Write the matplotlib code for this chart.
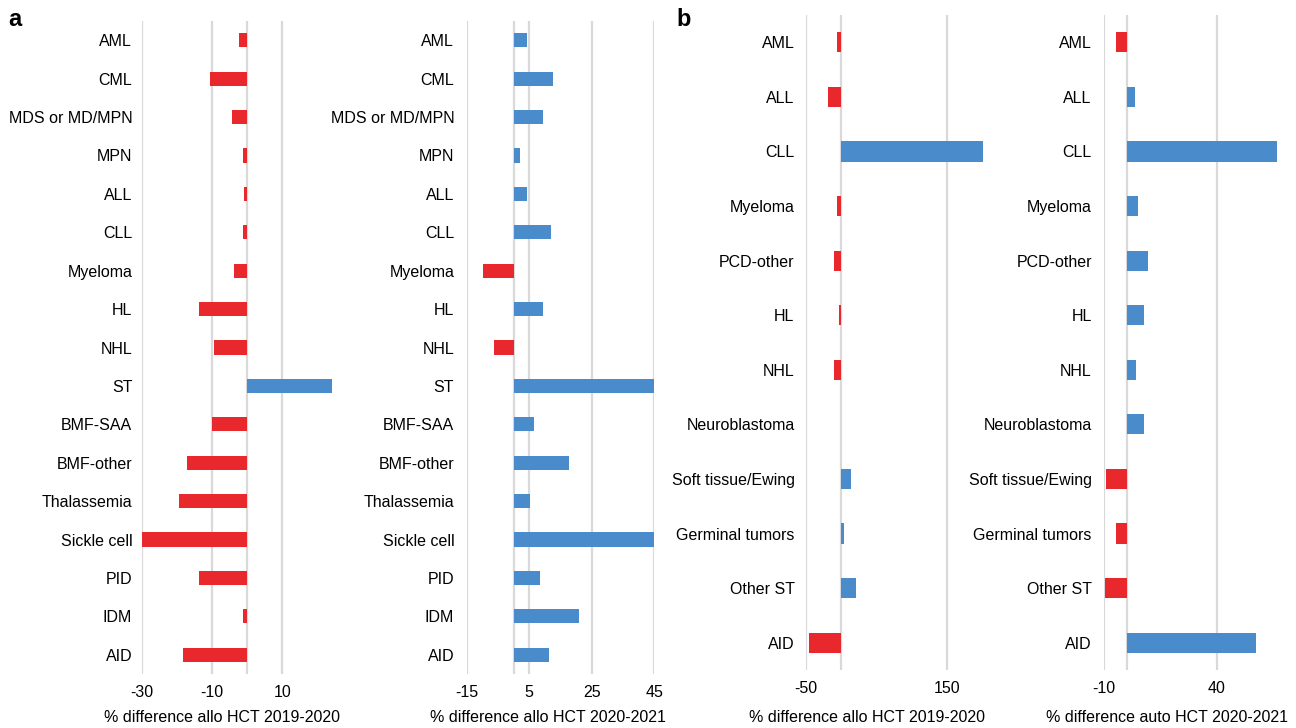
import matplotlib
matplotlib.use("Agg")
import matplotlib.pyplot as plt

plt.rcParams['font.family'] = ['Liberation Sans', 'DejaVu Sans']

RED = '#e8282c'
BLUE = '#4a8bcb'
GRID = '#d9d9d9'

# Panel a: allogeneic HCT by disease
a_labels = ["AML", "CML", "MDS or MD/MPN", "MPN", "ALL", "CLL", "Myeloma", "HL",
            "NHL", "ST", "BMF-SAA", "BMF-other", "Thalassemia", "Sickle cell",
            "PID", "IDM", "AID"]
a_allo_1920 = [-2.3, -10.6, -4.4, -1.3, -1.0, -1.3, -3.7, -13.7, -9.4, 24.2,
               -9.9, -17.2, -19.3, -30.0, -13.7, -1.3, -18.4]
a_allo_2021 = [4.2, 12.5, 9.3, 2.1, 4.2, 12.1, -9.8, 9.3, -6.2, 45.0,
               6.6, 17.7, 5.3, 45.0, 8.4, 20.9, 11.3]

# Panel b: pediatric / other categories
b_labels = ["AML", "ALL", "CLL", "Myeloma", "PCD-other", "HL", "NHL",
            "Neuroblastoma", "Soft tissue/Ewing", "Germinal tumors", "Other ST", "AID"]
b_allo_1920 = [-6.2, -18.5, 200.0, -6.2, -10.0, -3.0, -10.0, 0.0, 13.5, 4.0, 20.6, -45.0]
b_auto_2021 = [-4.6, 3.8, 66.7, 4.8, 9.3, 7.5, 4.2, 7.5, -9.3, -4.6, -9.7, 57.5]

W, H = 1296, 728
fig = plt.figure(figsize=(W / 100, H / 100), dpi=100)


def make_panel(px_left, px_right, px_top, px_bottom, labels, values, xlim, ticks,
               xlabel, xlabel_cx, ypad):
    ax = fig.add_axes([px_left / W, 1 - px_bottom / H,
                       (px_right - px_left) / W, (px_bottom - px_top) / H])
    ypos = list(range(len(labels)))
    colors = [BLUE if v > 0 else RED for v in values]
    ax.barh(ypos, values, height=0.37, color=colors, zorder=3)
    ax.set_xlim(*xlim)
    ax.set_ylim(len(labels) - 0.5, -0.5)
    ax.set_yticks(ypos)
    ax.set_yticklabels(labels, fontsize=11.5)
    ax.set_xticks(ticks)
    ax.set_xticklabels([str(t) for t in ticks], fontsize=11.5)
    ax.tick_params(length=0, axis='y', pad=ypad)
    ax.tick_params(length=0, axis='x', pad=8)
    for t in ticks:
        ax.axvline(t, color=GRID, lw=1.6, zorder=1)
    ax.axvline(0, color=GRID, lw=1.6, zorder=1)
    for s in ax.spines.values():
        s.set_visible(False)
    # x label placed by hand, it is not centred on the axis in the original
    fig.text(xlabel_cx / W, 1 - 717 / H, xlabel, fontsize=11.5, ha='center', va='center')
    return ax


make_panel(142, 333, 21, 674, a_labels, a_allo_1920, (-30, 24.5), [-30, -10, 10],
           "% difference allo HCT 2019-2020", 222, 7)
make_panel(466.7, 654.3, 21, 674, a_labels, a_allo_2021, (-15, 45), [-15, 5, 25, 45],
           "% difference allo HCT 2020-2021", 548, 9)
make_panel(805.7, 983.5, 15, 670, b_labels, b_allo_1920, (-50, 201), [-50, 150],
           "% difference allo HCT 2019-2020", 867, 8)
make_panel(1104.3, 1277, 15, 670, b_labels, b_auto_2021, (-10, 66.9), [-10, 40],
           "% difference auto HCT 2020-2021", 1167, 9)

fig.text(8 / W, 1 - 19 / H, "a", fontsize=17, fontweight='bold', va='center')
fig.text(676 / W, 1 - 19 / H, "b", fontsize=17, fontweight='bold', va='center')

fig.savefig("out.png", dpi=100)
